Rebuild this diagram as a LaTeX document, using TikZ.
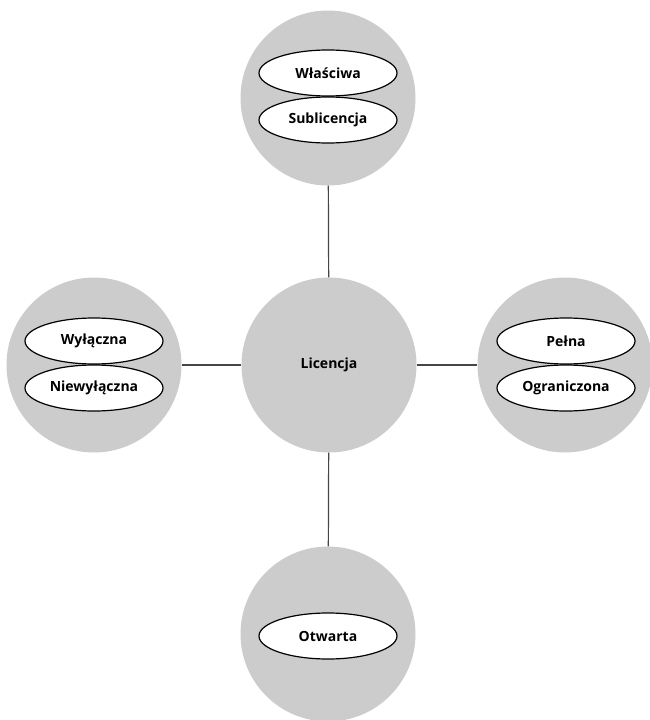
\documentclass[tikz,border=0pt]{standalone}
\usepackage{fontspec}
\setmainfont{Open Sans}
\usetikzlibrary{shapes.geometric}
\definecolor{discgray}{RGB}{204,204,204}
\definecolor{linegray}{RGB}{70,70,70}
\begin{document}
\begin{tikzpicture}[x=1pt,y=-1pt,
    disc/.style={circle,fill=discgray,minimum size=175pt,inner sep=0pt},
    oval/.style={ellipse,draw=black,line width=1.2pt,fill=white,minimum width=138pt,minimum height=46pt,inner sep=0pt,font=\bfseries\fontsize{14}{16}\selectfont},
    link/.style={draw=linegray,line width=1.2pt}]
    \useasboundingbox (0,0) rectangle (650,720);
    % Discs
    \node[disc,font=\bfseries\fontsize{14}{16}\selectfont] (lic) at (329,365) {Licencja};
    \node[disc] (top) at (328,98) {};
    \node[disc] (left) at (94,365) {};
    \node[disc] (right) at (565,365) {};
    \node[disc] (bottom) at (328,634) {};
    % Links
    \draw[link] (lic) -- (top);
    \draw[link] (lic) -- (left);
    \draw[link] (lic) -- (right);
    \draw[link] (lic) -- (bottom);
    % Ovals
    \node[oval] (wlasc) at (328,73) {Właściwa};
    \node[oval] (subl) at (328,120) {Sublicencja};
    \node[oval] (wyl) at (94,341) {Wyłączna};
    \node[oval] (niewyl) at (94,388) {Niewyłączna};
    \node[oval] (pelna) at (566,341) {Pełna};
    \node[oval] (ogr) at (566,388) {Ograniczona};
    \node[oval] (otw) at (328,636) {Otwarta};
\end{tikzpicture}
\end{document}
